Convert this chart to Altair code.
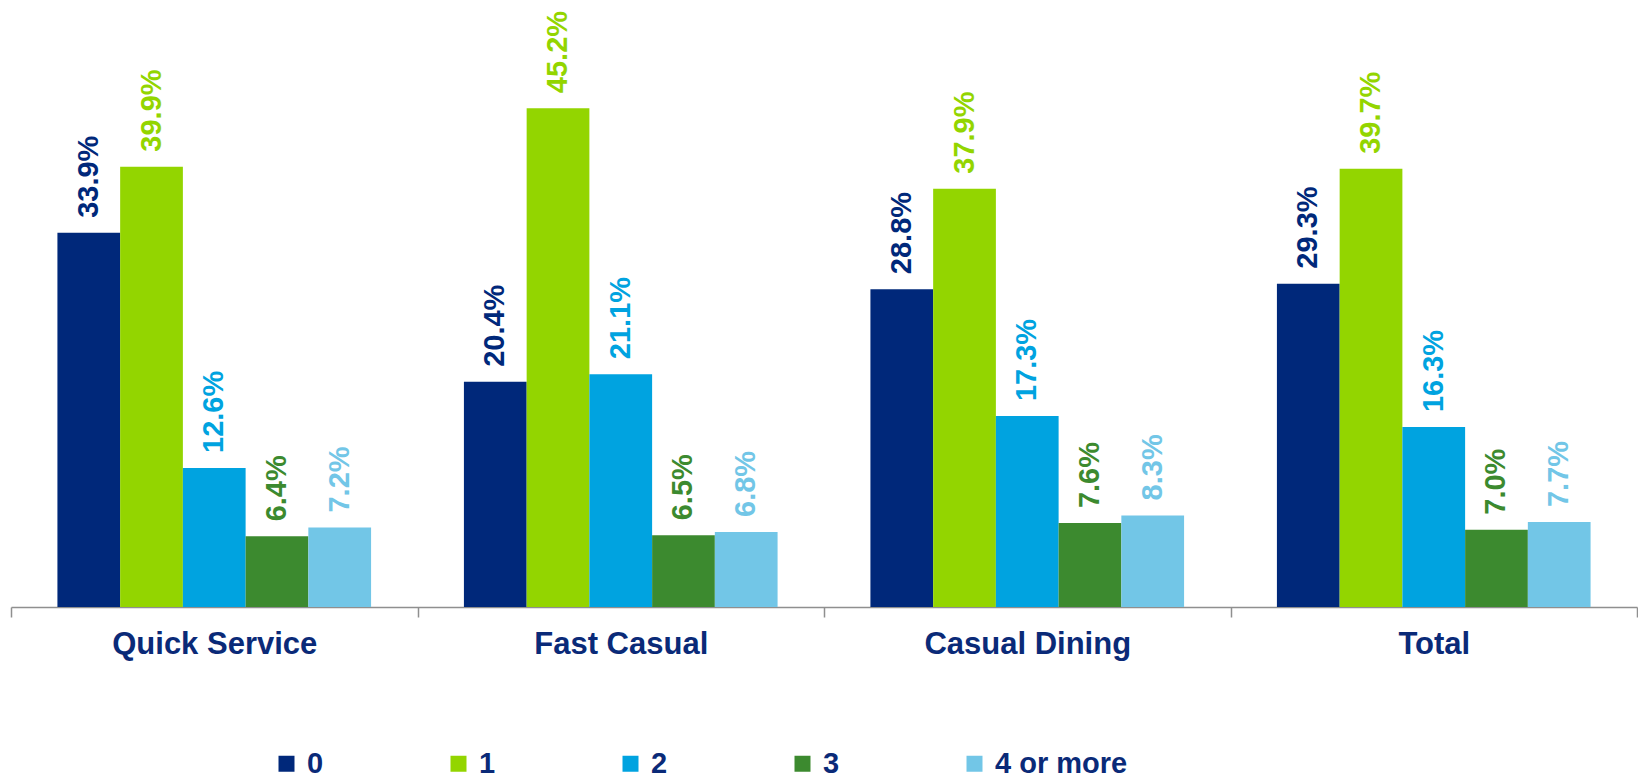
import altair as alt
import pandas as pd

categories = ["Quick Service", "Fast Casual", "Casual Dining", "Total"]
series = ["0", "1", "2", "3", "4 or more"]
s0 = [33.9, 20.4, 28.8, 29.3]
s1 = [39.9, 45.2, 37.9, 39.7]
s2 = [12.6, 21.1, 17.3, 16.3]
s3 = [6.4, 6.5, 7.6, 7.0]
s4 = [7.2, 6.8, 8.3, 7.7]
colors = ["#00287A", "#93D500", "#00A3E0", "#3C8A2F", "#72C6E7"]

NAVY = "#0A2A78"
GRAY = "#8F8F8F"
FONT = "Liberation Sans"

rows = []
for s, vals in zip(series, [s0, s1, s2, s3, s4]):
    for c, v in zip(categories, vals):
        rows.append({"category": c, "series": s, "value": v, "label": f"{v:.1f}%"})
df = pd.DataFrame(rows)

x = alt.X(
    "category:N",
    sort=categories,
    scale=alt.Scale(paddingInner=0, paddingOuter=0),
    axis=alt.Axis(
        title=None, labelAngle=0, tickBand="extent", labelFontSize=31,
        labelFont=FONT, labelFontWeight="bold", labelColor=NAVY,
        labelPadding=12, domainColor=GRAY, domainWidth=1.5,
        tickColor=GRAY, tickWidth=1.5, tickSize=10, labelLimit=0,
    ),
)
xoff = alt.XOffset("series:N", sort=series, scale=alt.Scale(paddingInner=0, paddingOuter=0.74))
y = alt.Y("value:Q", scale=alt.Scale(domain=[0, 55], nice=False, zero=True), axis=None)
color = alt.Color(
    "series:N",
    sort=series,
    scale=alt.Scale(domain=series, range=colors),
    legend=alt.Legend(
        title=None, orient="none", legendX=261, legendY=749,
        direction="horizontal", columnPadding=120, symbolType="square",
        symbolSize=256, symbolStrokeWidth=0, labelFontSize=29,
        labelFont=FONT, labelFontWeight="bold", labelColor=NAVY,
        labelOffset=6, padding=0,
    ),
)

bars = alt.Chart(df).mark_bar().encode(x=x, xOffset=xoff, y=y, color=color)
text = alt.Chart(df).mark_text(
    angle=270, align="left", baseline="middle", dx=15,
    fontSize=29, fontWeight="bold", font=FONT,
).encode(x=x, xOffset=xoff, y=y, text="label:N", color=color)

chart = alt.layer(bars, text).properties(
    width=1626, height=607,
    autosize=alt.AutoSizeParams(type="none"),
    padding={"left": 11, "top": 0, "right": 1, "bottom": 172},
).configure_view(stroke=None)

chart.save("out.html", embed_options={"renderer": "svg", "actions": False})
